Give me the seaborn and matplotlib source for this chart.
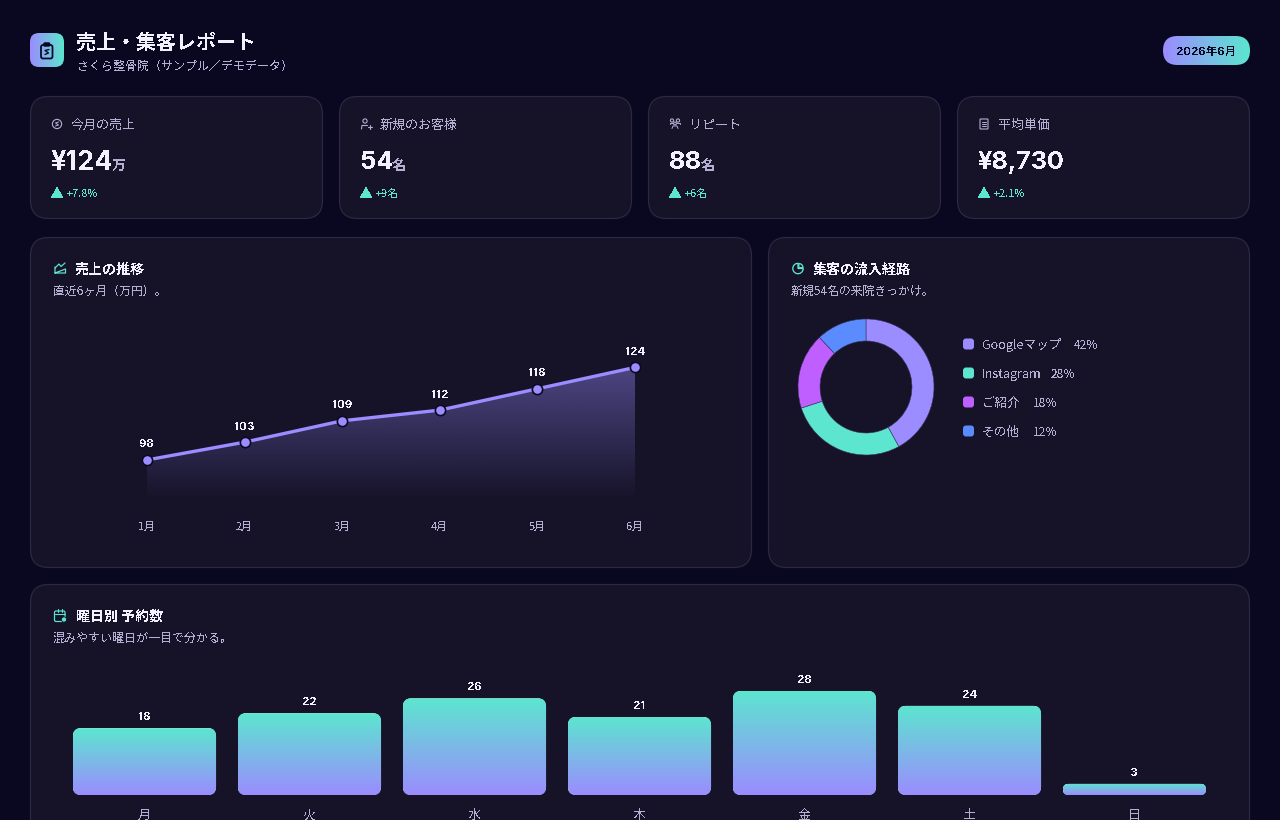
import numpy as np
import matplotlib
matplotlib.use("Agg")
import matplotlib.pyplot as plt
from matplotlib.patches import FancyBboxPatch, Circle, Wedge, Rectangle
from matplotlib.colors import to_rgb
import seaborn as sns

# ---- data ----
months = ["1月", "2月", "3月", "4月", "5月", "6月"]
sales = [98, 103, 109, 112, 118, 124]
channels = ["Googleマップ", "Instagram", "ご紹介", "その他"]
channel_shares = [42, 28, 18, 12]
days = ["月", "火", "水", "木", "金", "土", "日"]
bookings = [18, 22, 26, 21, 28, 24, 3]
kpi_labels = ["今月の売上", "新規のお客様", "リピート", "平均単価"]
kpi_values = ["¥124", "54", "88", "¥8,730"]
kpi_units = ["万", "名", "名", ""]
kpi_deltas = ["+7.8%", "+9名", "+6名", "+2.1%"]

# ---- style ----
BG = "#0a0720"; CARD = "#161329"; BORDER = "#2b2842"
PURPLE = "#9b8cff"; TEAL = "#5ce6cf"; VIOLET = "#bf5fff"; BLUE = "#5b8cff"
WHITE = "#f4f1ff"; MUTED = "#b4aed2"
channel_colors = [PURPLE, TEAL, VIOLET, BLUE]
LATIN = ["Inter", "Noto Sans CJK JP", "DejaVu Sans"]

sns.set_theme(style="dark")
plt.rcParams["font.family"] = ["Noto Sans CJK JP", "DejaVu Sans"]
plt.rcParams["text.antialiased"] = False
PX = 72 / 100

fig = plt.figure(figsize=(12.8, 8.2001), dpi=100, facecolor=BG)
W, H = 1280, 820
bg = fig.add_axes([0, 0, 1, 1], zorder=0)
bg.set_xlim(0, W); bg.set_ylim(H, 0); bg.axis("off")


def axes_px(l, t, r, b, z=2):
    a = fig.add_axes([l / W, 1 - b / H, (r - l) / W, (b - t) / H], zorder=z)
    a.patch.set_alpha(0)
    return a


def card(l, t, r, b, rad=18):
    bg.add_patch(FancyBboxPatch((l + .5, t + .5), r - l - 1, b - t - 1,
                                boxstyle=f"round,pad=0,rounding_size={rad}",
                                fc=CARD, ec=BORDER, lw=1.2 * PX))


def txt(x, y, s, px, c=WHITE, w="normal", ha="left", va="center", fam=None):
    t = bg.text(x, y + 1, s, fontsize=px * PX, color=c, fontweight=w, ha=ha, va=va)
    if fam:
        t.set_fontfamily(fam)
    return t


def gradient(ax, extent, c0, c1, clip, horizontal=False, z=3):
    n = 128
    t = np.linspace(0, 1, n)
    a, b = np.array(to_rgb(c0)), np.array(to_rgb(c1))
    rgb = a[None, :] * (1 - t[:, None]) + b[None, :] * t[:, None]
    img = rgb[None, :, :] if horizontal else rgb[:, None, :]
    xl, yl = ax.get_xlim(), ax.get_ylim()
    im = ax.imshow(img, extent=extent, origin="upper", aspect="auto", zorder=z,
                   interpolation="bilinear")
    im.set_clip_path(clip)
    ax.set_xlim(xl); ax.set_ylim(yl)
    return im


def rounded_clip(ax, x, y, w, h, rx, aspect=1.0):
    p = FancyBboxPatch((x, y), w, h, boxstyle=f"round,pad=0,rounding_size={rx}",
                       mutation_aspect=aspect, fc="none", ec="none")
    ax.add_patch(p)
    return p


# ---- icons (pixel overlay) ----
def ln(xs, ys, c, lw=1.0):
    bg.plot(xs, ys, color=c, lw=lw * PX * 1.1, solid_capstyle="round", zorder=5)


def ring(x, y, r, c, lw=1.0):
    bg.add_patch(Circle((x, y), r, fc="none", ec=c, lw=lw * PX * 1.1, zorder=5))


def box(l, t, w, h, c, rad=2, lw=1.0, fc="none"):
    bg.add_patch(FancyBboxPatch((l, t), w, h, boxstyle=f"round,pad=0,rounding_size={rad}",
                                fc=fc, ec=c, lw=lw * PX * 1.1, zorder=5))


def icon_coin(x, y, c):
    ring(x, y, 4.6, c)
    ln([x + 1.5, x - 1.5, x + 1.5, x - 1.5], [y - 2, y - 1, y + 1, y + 2], c, .9)


def icon_person(x, y, c):
    ring(x - 1, y - 3, 2.1, c)
    ln([x - 4.5, x - 4, x + 1.5], [y + 5, y + 1.5, y + 1.5], c)
    ln([x + 2, x + 6], [y + 3.5, y + 3.5], c); ln([x + 4, x + 4], [y + 1.5, y + 5.5], c)


def icon_group(x, y, c):
    ring(x - 3, y - 3.5, 1.6, c); ring(x + 3, y - 3.5, 1.6, c); ring(x, y - .5, 1.4, c)
    ln([x - 5, x - 5, x - 2], [y + .5, y - 1, y - 1], c, .9)
    ln([x + 5, x + 5, x + 2], [y + .5, y - 1, y - 1], c, .9)
    ln([x - 3, x - 2, x + 2, x + 3], [y + 4.5, y + 2, y + 2, y + 4.5], c, .9)


def icon_receipt(x, y, c):
    box(x - 4, y - 5, 8, 10, c, rad=.6)
    ln([x - 2, x + 2], [y - 2, y - 2], c, .9); ln([x - 2, x + 2], [y, y], c, .9)
    ln([x - 2, x + 2], [y + 2.4, y + 2.4], c, .9)


def icon_chart(x, y, c):
    ln([x - 5, x - 5, x + 5.5, x + 5.5, x - 5], [y - 1, y + 5, y + 5, y + 1, y - 1 + 6], c, 1.1)
    ln([x - 5, x - 1, x + 1, x + 5], [y, y - 4, y - 1.5, y - 5], c, 1.1)


def icon_pie(x, y, c):
    bg.add_patch(Wedge((x, y), 5.2, 0, 270, fc="none", ec=c, lw=1.3 * PX, zorder=5))
    bg.add_patch(Wedge((x + .8, y - .8), 4.2, 270, 360, fc="none", ec=c, lw=1.3 * PX, zorder=5))


def icon_calendar(x, y, c):
    box(x - 5.5, y - 5, 10.5, 10.5, c, rad=1.5, lw=1.1)
    ln([x - 5.5, x + 5], [y - 1.5, y - 1.5], c)
    ln([x - 2.5, x - 2.5], [y - 6.5, y - 4], c); ln([x + 2, x + 2], [y - 6.5, y - 4], c)
    bg.add_patch(Circle((x + 4, y + 3.5), 2.6, fc=c, ec=CARD, lw=.6, zorder=6))


# ---- header ----
icon_clip = rounded_clip(bg, 30, 33, 34, 34, 9)
gradient(bg, (30, 64, 67, 33), PURPLE, TEAL, icon_clip, horizontal=True, z=2)
box(41, 45, 11.5, 13.5, BG, rad=2, lw=1.6)
box(44, 43, 5.5, 3, BG, rad=.8, lw=1.3, fc=BG)
ln([49, 45, 48.5, 45], [49.5, 50.5, 53, 54.5], BG, 1.2)
txt(76, 41, "売上・集客レポート", 20, WHITE, "bold")
txt(77, 65.5, "さくら整骨院（サンプル／デモデータ）", 12, MUTED)
pill_clip = rounded_clip(bg, 1163, 36, 87, 29, 14.5)
gradient(bg, (1163, 1250, 65, 36), PURPLE, TEAL, pill_clip, horizontal=True, z=2)
txt(1206.5, 50.5, "2026年6月", 11.5, BG, "bold", ha="center", fam=LATIN).set_zorder(6)

# ---- KPI cards ----
kpi_lefts = [30, 339, 648, 957]
kpi_icons = [icon_coin, icon_person, icon_group, icon_receipt]
value_w = [60.5, 32, 32, 87]
value_px = [27, 25.5, 25.5, 25.2]
for l, lab, val, unit, d, ic, vw, vp in zip(kpi_lefts, kpi_labels, kpi_values, kpi_units,
                                            kpi_deltas, kpi_icons, value_w, value_px):
    card(l, 96, l + 293, 219)
    ic(l + 27, 124, MUTED)
    txt(l + 41, 124.5, lab, 13, MUTED)
    txt(l + 21, 161.5, val, vp, WHITE, "bold", fam=LATIN)
    if unit:
        txt(l + 21 + vw, 164.5, unit, 14, MUTED, "bold")
    txt(l + 19.5, 193.5, "▲", 14, TEAL)
    txt(l + 37, 192.5, d, 11, TEAL)

# ---- panels ----
card(30, 237, 752, 568)
card(768, 237, 1250, 568)
card(30, 584, 1250, 870)
icon_chart(60, 268, TEAL)
txt(75, 268.5, "売上の推移", 14, WHITE, "bold")
txt(53, 290.5, "直近6ヶ月（万円）。", 11.95, MUTED)
icon_pie(798, 268.5, TEAL)
txt(813, 268.5, "集客の流入経路", 14, WHITE, "bold")
txt(791, 290.5, "新規54名の来院きっかけ。", 11.95, MUTED)
icon_calendar(60, 616, TEAL)
txt(76, 615.5, "曜日別 予約数", 14, WHITE, "bold")
txt(53, 637.5, "混みやすい曜日が一目で分かる。", 12, MUTED)

# ---- line chart ----
ax = axes_px(147, 340, 635, 500)
sns.lineplot(x=months, y=sales, ax=ax, color=PURPLE, lw=2.4, sort=False, marker="o",
             markersize=7.4, markerfacecolor=PURPLE, markeredgecolor="#0c0920",
             markeredgewidth=1.2, clip_on=False, zorder=5, errorbar=None)
ax.set_xlim(0, len(months) - 1)
ax.set_ylim(86.75, 131.7)
poly = ax.fill_between(range(len(months)), sales, ax.get_ylim()[0], color=PURPLE, alpha=0, lw=0)
n = 128
alpha = np.linspace(0.42, 0, n)
img = np.zeros((n, 1, 4)); img[..., :3] = to_rgb(PURPLE); img[..., 3] = alpha[:, None]
im = ax.imshow(img, extent=(0, 5, 86.75, max(sales)), origin="upper", aspect="auto", zorder=2)
im.set_clip_path(poly.get_paths()[0], ax.transData)
ax.set_xlim(0, len(months) - 1); ax.set_ylim(86.75, 131.7)
for i, v in enumerate(sales):
    ax.annotate(str(v), (i, v), xytext=(0, 7.6), textcoords="offset points", ha="center",
                va="bottom", color=WHITE, fontsize=11.5 * PX, fontweight="bold", family=LATIN,
                zorder=6)
ax.set_xlabel(""); ax.set_ylabel(""); ax.set_yticks([])
ax.set_xticks(range(len(months)), months)
ax.tick_params(axis="x", length=0, pad=16, labelsize=11 * PX, labelcolor=MUTED)
ax.grid(False)
sns.despine(ax=ax, left=True, bottom=True)

# ---- donut ----
axd = axes_px(866 - 68, 387 - 68, 866 + 68, 387 + 68)
axd.pie(channel_shares, colors=channel_colors, startangle=90, counterclock=False, radius=1.0,
        wedgeprops=dict(width=22 / 68, edgecolor="#3a3560", linewidth=0.4))
axd.set_xlim(-1, 1); axd.set_ylim(-1, 1)
label_w = [92, 69, 51, 51]
for i, (name, share, col, lw_) in enumerate(zip(channels, channel_shares, channel_colors, label_w)):
    y = 344 + i * 29
    bg.add_patch(FancyBboxPatch((963, y - 5.5), 11, 11, boxstyle="round,pad=0,rounding_size=3",
                                fc=col, ec="none"))
    txt(982, y, name, 12.6, MUTED)
    txt(982 + lw_, y, f"{share}%", 12, MUTED)

# ---- bars ----
axb = axes_px(62, 660, 1217, 795)
sns.barplot(x=days, y=bookings, ax=axb, color=TEAL, width=0.867, saturation=1, zorder=2)
ymax = 135 / (104 / max(bookings))
axb.set_xlim(-0.5, len(days) - 0.5); axb.set_ylim(0, ymax)
px_x = 1155 / len(days); px_y = 135 / ymax
for p, v in zip(axb.patches, bookings):
    x, w, h = p.get_x(), p.get_width(), p.get_height()
    rad_px = min(8, h * px_y / 2)
    clip = rounded_clip(axb, x, 0, w, h, rad_px / px_x, aspect=px_x / px_y)
    p.set_clip_path(clip)
    gradient(axb, (x, x + w, 0, h), TEAL, PURPLE, clip)
    axb.annotate(str(v), (x + w / 2, h), xytext=(0, 4.5), textcoords="offset points", ha="center",
                 va="bottom", color=WHITE, fontsize=11.5 * PX, fontweight="bold", family=LATIN,
                 zorder=6)
axb.set_xlabel(""); axb.set_ylabel(""); axb.set_yticks([])
axb.tick_params(axis="x", length=0, pad=10.2, labelsize=13 * PX, labelcolor=MUTED)
axb.grid(False)
sns.despine(ax=axb, left=True, bottom=True)

fig.savefig("out.png", dpi=100, facecolor=BG)
